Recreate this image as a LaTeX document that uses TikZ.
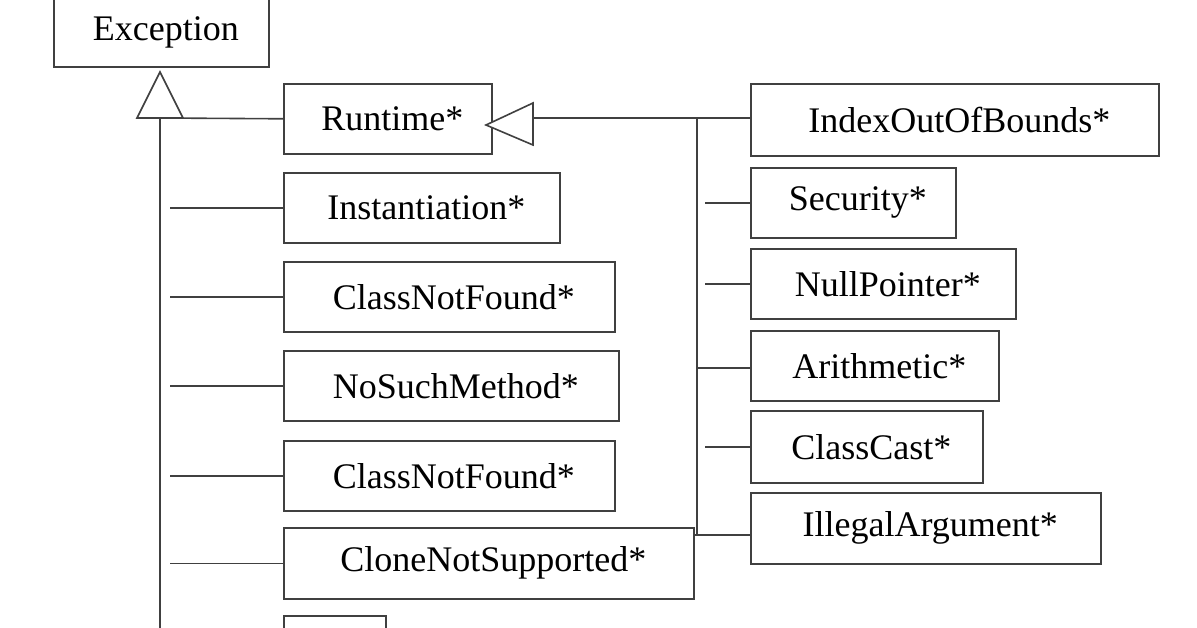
\documentclass[tikz,border=0pt]{standalone}
\usepackage{fontspec}
\setmainfont{Liberation Serif}
\begin{document}
\begin{tikzpicture}[x=1pt, y=-1pt, line width=1.6pt, draw=black!75,
	cls/.style={draw, rectangle, inner sep=0pt, anchor=north west, font=\fontsize{36}{36}\selectfont, align=left},
	gen/.style={draw, fill=white, line width=1.6pt}
	]
	\useasboundingbox (0,0) rectangle (1197,628);
	\clip (0,0) rectangle (1197,628);
	% left column of subclasses
	\node [cls, minimum width=215pt, minimum height=68pt] (exc) at (53,-2) {~Exception};
	\node [cls, minimum width=208pt, minimum height=70pt] (rt) at (283,83) {~Runtime*};
	\node [cls, minimum width=276pt, minimum height=70pt] (inst) at (283,172) {~Instantiation*};
	\node [cls, minimum width=331pt, minimum height=70pt] (cnf) at (283,261) {~ClassNotFound*};
	\node [cls, minimum width=335pt, minimum height=70pt] (nsm) at (283,350) {~NoSuchMethod*};
	\node [cls, minimum width=331pt, minimum height=70pt] (cnf2) at (283,440) {~ClassNotFound*};
	\node [cls, minimum width=410pt, minimum height=71pt] (cns) at (283,527) {~CloneNotSupported*};
	\node [cls, minimum width=102pt, minimum height=60pt] (more) at (283,615) {};
	% right column of subclasses
	\node [cls, minimum width=408pt, minimum height=72pt] (ioob) at (750,83) {~IndexOutOfBounds*};
	\node [cls, minimum width=205pt, minimum height=70pt] (sec) at (750,167) {~Security*};
	\node [cls, minimum width=265pt, minimum height=70pt] (np) at (750,248) {~NullPointer*};
	\node [cls, minimum width=248pt, minimum height=70pt] (ar) at (750,330) {~Arithmetic*};
	\node [cls, minimum width=232pt, minimum height=72pt] (cc) at (750,410) {~ClassCast*};
	\node [cls, minimum width=350pt, minimum height=71pt] (ia) at (750,492) {~IllegalArgument*};
	% hierarchy lines
	\coordinate (lt) at (160,118);
	\coordinate (rt0) at (697,118);
	\draw (lt) -- (160,640);
	\draw (lt) -- (rt.west);
	\foreach \n in {inst,cnf,nsm,cnf2,cns} \draw (170,0 |- \n.west) -- (\n.west);
	\draw (rt0) -- (697,535);
	\draw (533,118) -- (ioob.west |- 0,118);
	\foreach \n in {sec,np,cc} \draw (705,0 |- \n.west) -- (\n.west);
	\draw (697,368) -- (ar.west |- 0,368);
	\draw (693,535) -- (ia.west |- 0,535);
	% generalisation triangles
	\draw [gen] (160,72) -- (183,118) -- (137,118) -- cycle;
	\draw [gen] (486,125) -- (533,103) -- (533,145) -- cycle;
\end{tikzpicture}
\end{document}
